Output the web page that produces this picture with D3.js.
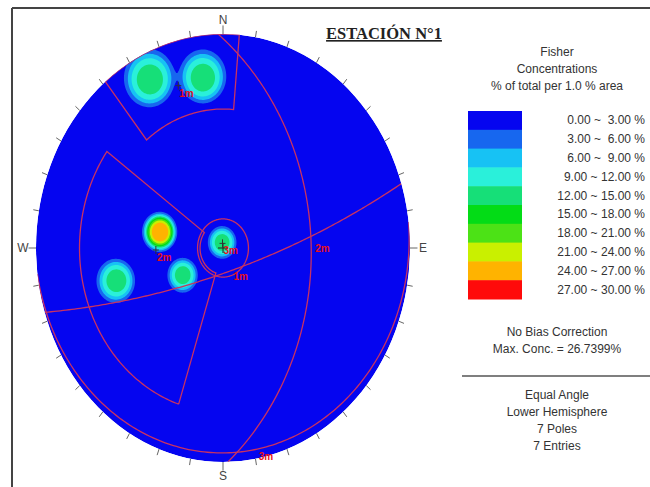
<!DOCTYPE html>
<html>
<head>
<meta charset="utf-8">
<script src="https://cdn.jsdelivr.net/npm/d3@7"></script>
<style>
  body { margin: 0; background: #fff; }
  svg text { font-family: "Liberation Sans", Arial, sans-serif; }
</style>
</head>
<body>
<div id="chart"></div>
<script>
// Poles (trend / plunge, degrees)
const poleTrend  = [333.6, 352.3, 282.5, 282.5, 255, 239.5, 350];
const polePlunge = [7.5, 12.6, 52, 52, 29, 62, 87];

// Mean planes (dip / dip direction)
const setNames  = ["1m", "2m", "3m"];
const setDip    = [77, 39.5, 2.5];
const setDipDir = [162.5, 88.5, 173];

// Set windows: trend range, plunge range
const winTrend0  = [321, 198, 0];
const winTrend1  = [365, 306, 360];
const winPlunge0 = [0, 15, 74.5];
const winPlunge1 = [24, 76, 90];

// Legend
const bandLabels = ["0.00 ~  3.00 %", "3.00 ~  6.00 %", "6.00 ~  9.00 %", "9.00 ~ 12.00 %",
  "12.00 ~ 15.00 %", "15.00 ~ 18.00 %", "18.00 ~ 21.00 %", "21.00 ~ 24.00 %",
  "24.00 ~ 27.00 %", "27.00 ~ 30.00 %"];
const bandColors = ["#0505f0", "#1767ef", "#17c2f4", "#2af0da", "#16df78",
  "#03dc16", "#4ce216", "#c9f000", "#ffb300", "#ff0a0a"];
const thresholds = [3, 6, 9, 12, 15, 18, 21, 24, 27];
const compass = ["N", "E", "S", "W"];

const width = 650, height = 487;
const sigma = 7.9;        // kernel spread, degrees
const peak = 26.7399 / 2; // % per pole at its centre
const rad = Math.PI / 180;

const svg = d3.select("#chart").append("svg")
  .attr("width", width).attr("height", height);

// stereonet scales (unit disk -> stretched ellipse)
const x = d3.scaleLinear().domain([-1, 1]).range([36, 410]);
const y = d3.scaleLinear().domain([-1, 1]).range([462, 34]);

// equal angle projection of a lower hemisphere direction
function vec(trend, plunge) {
  const t = trend * rad, p = plunge * rad;
  return [Math.cos(p) * Math.sin(t), Math.cos(p) * Math.cos(t), Math.sin(p)];
}
function proj(v) {
  return [v[0] / (1 + v[2]), v[1] / (1 + v[2])];
}
function px(v) { const p = proj(v); return [x(p[0]), y(p[1])]; }

// frame
svg.append("line").attr("x1", 12).attr("x2", 12).attr("y1", 8).attr("y2", height)
  .attr("stroke", "#444").attr("stroke-width", 2);
svg.append("line").attr("x1", 12).attr("x2", width).attr("y1", 8).attr("y2", 8)
  .attr("stroke", "#444").attr("stroke-width", 2);

// clip
svg.append("clipPath").attr("id", "net")
  .append("ellipse").attr("cx", x(0)).attr("cy", y(0))
  .attr("rx", x(1) - x(0)).attr("ry", y(-1) - y(0));

const net = svg.append("g").attr("clip-path", "url(#net)");
net.append("ellipse").attr("cx", x(0)).attr("cy", y(0))
  .attr("rx", x(1) - x(0)).attr("ry", y(-1) - y(0))
  .attr("fill", bandColors[0]);

// density grid
const n = 300;
const poles = poleTrend.map((t, i) => vec(t, polePlunge[i]));
const s0 = 1 - Math.cos(sigma * rad);
const values = new Float64Array(n * n);
for (let j = 0; j < n; j++) {
  for (let i = 0; i < n; i++) {
    const X = -1 + 2 * (i + 0.5) / n, Y = 1 - 2 * (j + 0.5) / n;
    const r2 = X * X + Y * Y;
    const v = [2 * X / (1 + r2), 2 * Y / (1 + r2), (1 - r2) / (1 + r2)];
    let s = 0;
    poles.forEach(p => {
      const u = (1 - (p[0] * v[0] + p[1] * v[1] + p[2] * v[2])) / s0;
      s += Math.exp(-u * u);
    });
    values[i + j * n] = peak * s;
  }
}
const contours = d3.contours().size([n, n]).thresholds(thresholds)(values);
const gridPath = d3.geoPath(d3.geoTransform({
  point(gx, gy) { this.stream.point(x(-1 + 2 * gx / n), y(1 - 2 * gy / n)); }
}));
net.selectAll(".band").data(contours).join("path")
  .attr("class", "band")
  .attr("d", gridPath)
  .attr("fill", (d, i) => bandColors[i + 1]);

const red = "#c83262";
const line = d3.line();

// set windows
winTrend0.forEach((t0, k) => {
  const t1 = winTrend1[k], p0 = winPlunge0[k], p1 = winPlunge1[k];
  const pts = [];
  if (t1 - t0 >= 360) {
    d3.range(0, 361, 2).forEach(t => pts.push(px(vec(t, p0))));
  } else {
    d3.range(t0, t1 + 0.01, 1).forEach(t => pts.push(px(vec(t, p0))));
    d3.range(t1, t0 - 0.01, -1).forEach(t => pts.push(px(vec(t, p1))));
    pts.push(pts[0]);
  }
  net.append("path").attr("d", line(pts))
    .attr("fill", "none").attr("stroke", red).attr("stroke-width", 1.3);
});

// mean planes
setDip.forEach((dip, k) => {
  const a = setDipDir[k];
  const S = vec(a - 90, 0), D = vec(a, dip);
  const pts = d3.range(0, 180.01, 1).map(b => {
    const c = Math.cos(b * rad), s = Math.sin(b * rad);
    return px([c * S[0] + s * D[0], c * S[1] + s * D[1], c * S[2] + s * D[2]]);
  });
  net.append("path").attr("d", line(pts))
    .attr("fill", "none").attr("stroke", red).attr("stroke-width", 1.3);
});

// center cross
svg.append("path")
  .attr("d", `M${x(0) - 5},${y(0)}H${x(0) + 5}M${x(0)},${y(0) - 5}V${y(0) + 5}`)
  .attr("stroke", "#222").attr("stroke-width", 1);

// mean pole markers and labels
const labelOffsets = [[4, 4], [4, 2], [14, 4]];
setDip.forEach((dip, k) => {
  const p = px(vec(setDipDir[k] + 180, 90 - dip));
  svg.append("path")
    .attr("d", `M${p[0] - 3},${p[1]}H${p[0] + 3}M${p[0]},${p[1] - 4}V${p[1] + 4}`)
    .attr("stroke", "#333").attr("stroke-width", 1);
  svg.append("text").attr("x", p[0] + 1).attr("y", p[1] + 11)
    .attr("font-size", 10).attr("font-weight", "bold").attr("fill", "#e8101a")
    .text(setNames[k]);
  const m = px(vec(setDipDir[k], dip));
  svg.append("text").attr("x", m[0] + labelOffsets[k][0]).attr("y", m[1] + labelOffsets[k][1] + 5)
    .attr("font-size", 10).attr("font-weight", "bold").attr("fill", "#e8101a")
    .text(setNames[k]);
});

// perimeter ticks
d3.range(0, 360, 10).forEach(a => {
  const s = Math.sin(a * rad), c = Math.cos(a * rad);
  const len = a % 90 === 0 ? 0.04 : 0.03;
  svg.append("line")
    .attr("x1", x(s)).attr("y1", y(c))
    .attr("x2", x(s * (1 + len))).attr("y2", y(c * (1 + len)))
    .attr("stroke", "#666").attr("stroke-width", 1);
});
compass.forEach((lab, i) => {
  const a = i * 90 * rad;
  svg.append("text")
    .attr("x", x(Math.sin(a) * 1.07)).attr("y", y(Math.cos(a) * 1.065))
    .attr("text-anchor", "middle").attr("dominant-baseline", "central")
    .attr("font-size", 12).attr("fill", "#444").text(lab);
});

// title
svg.append("text").attr("x", 384).attr("y", 39)
  .attr("text-anchor", "middle")
  .style("font-family", "'Liberation Serif', 'Times New Roman', serif")
  .attr("font-size", 16.5).attr("font-weight", "bold").attr("fill", "#222")
  .style("text-decoration", "underline")
  .text("ESTACIÓN N°1");

// legend
const lx = 557;
const legendText = (txt, yy) => svg.append("text").attr("x", lx).attr("y", yy)
  .attr("text-anchor", "middle").attr("dominant-baseline", "central")
  .attr("font-size", 12).attr("fill", "#333").text(txt);
legendText("Fisher", 52);
legendText("Concentrations", 69);
legendText("% of total per 1.0 % area", 86);

const band = d3.scaleBand().domain(d3.range(bandLabels.length)).range([111, 299]);
svg.selectAll(".key").data(bandColors).join("rect")
  .attr("class", "key")
  .attr("x", 468).attr("width", 54)
  .attr("y", (d, i) => band(i)).attr("height", band.bandwidth() + 0.5)
  .attr("fill", d => d);
svg.selectAll(".keylab").data(bandLabels).join("text")
  .attr("class", "keylab")
  .attr("x", 645).attr("y", (d, i) => band(i) + band.bandwidth() / 2)
  .attr("text-anchor", "end").attr("dominant-baseline", "central")
  .attr("font-size", 12).attr("fill", "#333")
  .style("white-space", "pre")
  .text(d => d);

legendText("No Bias Correction", 332);
legendText("Max. Conc. = 26.7399%", 349);
svg.append("line").attr("x1", 462).attr("x2", width).attr("y1", 376).attr("y2", 376)
  .attr("stroke", "#555").attr("stroke-width", 1.5);
legendText("Equal Angle", 395);
legendText("Lower Hemisphere", 412);
legendText("7 Poles", 429);
legendText("7 Entries", 446);
</script>
</body>
</html>
